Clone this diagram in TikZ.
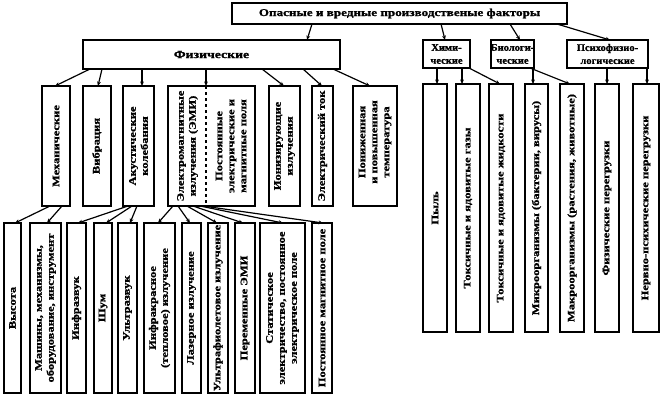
\documentclass[tikz,border=0pt]{standalone}
\usepackage{fontspec}
\newfontfamily\ffa{Liberation Serif Bold}[FakeStretch=1.25,FakeBold=1.2]
\newfontfamily\ffb{Liberation Serif Bold}[FakeStretch=1.05,FakeBold=1.2]
\usetikzlibrary{arrows.meta}
\newcommand\fnt{\ffa\fontsize{10}{12}\selectfont}
\newcommand\sfnt{\ffb\fontsize{10}{13}\selectfont}
\newcommand\mkbox[5]{%
  \pgfmathsetmacro\bxw{#4-#2}\pgfmathsetmacro\bxh{#5-#3}%
  \node[bx, minimum width=\bxw pt, minimum height=\bxh pt] (#1) at ({(#2+#4)/2},{(#3+#5)/2}) {};}
\begin{document}
\begin{tikzpicture}[x=1pt,y=-1pt,
  bx/.style={draw, line width=1.5pt, inner sep=0pt, outer sep=0pt},
  vt/.style={rotate=90, align=center, inner sep=0pt, font=\fnt},
  ht/.style={align=center, inner sep=0pt, font=\fnt},
  st/.style={align=center, inner sep=0pt, font=\sfnt},
  arr/.style={-{Stealth[length=4.5pt,width=3.8pt]}, line width=1.2pt}]
\useasboundingbox (0,0) rectangle (660,402);
% top levels
\mkbox{top}{232}{3}{567}{24}
\node[ht, font=\ffa\fontsize{10.5}{12}\selectfont] (topt) at (top) {Опасные и вредные производственые факторы};
\mkbox{fiz}{83}{40}{340}{69}
\node[ht, font=\ffa\fontsize{11}{12}\selectfont] (fizt) at (fiz) {Физические};
\mkbox{him}{423}{40}{470}{68}
\node[st] (himt) at (him) {Хими-\\ческие};
\mkbox{bio}{491}{40}{534}{68}
\node[st] (biot) at (bio) {Биологи-\\ческие};
\mkbox{psy}{567}{40}{648}{68}
\node[st] (psyt) at (psy) {Психофизио-\\логические};
% physical subgroups
\mkbox{mech}{42}{86}{70}{206}
\node[vt] (mecht) at (mech) {Механические};
\mkbox{vib}{83}{86}{111}{206}
\node[vt] (vibt) at (vib) {Вибрация};
\mkbox{akust}{123}{86}{154}{206}
\node[vt] (akustt) at (akust) {Акустические\\колебания};
\mkbox{emi}{168}{86}{255}{206}
\draw[dashed, line width=1.2pt] ([xshift=38pt]emi.north west) -- ([xshift=38pt]emi.south west);
\node[vt] (emit) at (187.5,146) {Электромагнитные\\излучения (ЭМИ)};
\node[vt] (emipt) at (231,146) {Постоянные\\электрические и\\магнитные поля};
\mkbox{ion}{269}{86}{300}{206}
\node[vt] (iont) at (ion) {Ионизирующие\\излучения};
\mkbox{tok}{312}{86}{333}{206}
\node[vt] (tokt) at (tok) {Электрический ток};
\mkbox{temp}{353}{86}{397}{206}
\node[vt] (tempt) at (375,142) {Пониженная\\и повышенная\\температура};
% level 3 left
\mkbox{vys}{4}{223}{21}{393}
\node[vt] (vyst) at (vys) {Высота};
\mkbox{mash}{30}{223}{61}{393}
\node[vt] (masht) at (mash) {Машины, механизмы,\\оборудование, инструмент};
\mkbox{infra}{67}{223}{86}{393}
\node[vt] (infrat) at (infra) {Инфразвук};
\mkbox{shum}{94}{223}{112}{393}
\node[vt] (shumt) at (shum) {Шум};
\mkbox{ultra}{118}{223}{137}{393}
\node[vt] (ultrat) at (ultra) {Ультразвук};
\mkbox{ik}{144}{223}{175}{393}
\node[vt] (ikt) at (ik) {Инфракрасное\\(тепловое) излучение};
\mkbox{laz}{182}{223}{201}{393}
\node[vt] (lazt) at (laz) {Лазерное излучение};
\mkbox{uf}{208}{223}{228}{393}
\node[vt] (uft) at (uf) {Ультрафиолетовое излучение};
\mkbox{perem}{235}{223}{255}{393}
\node[vt] (peremt) at (perem) {Переменные ЭМИ};
\mkbox{stat}{260}{223}{305}{393}
\node[vt] (statt) at (stat) {Статическое\\электричество, постоянное\\электрическое поле};
\mkbox{post}{312}{223}{332}{393}
\node[vt] (postt) at (post) {Постоянное магнитное поле};
% right groups
\mkbox{pyl}{423}{84}{447}{332}
\node[vt] (pylt) at (pyl) {Пыль};
\mkbox{gaz}{456}{84}{480}{332}
\node[vt] (gazt) at (gaz) {Токсичные и ядовитые газы};
\mkbox{zhid}{489}{84}{513}{332}
\node[vt] (zhidt) at (zhid) {Токсичные и ядовитые жидкости};
\mkbox{micro}{525}{84}{548}{332}
\node[vt] (microt) at (micro) {Микроорганизмы (бактерии, вирусы)};
\mkbox{macro}{560}{84}{584}{332}
\node[vt] (macrot) at (macro) {Макроорганизмы (растения, животные)};
\mkbox{fizper}{595}{84}{619}{332}
\node[vt] (fizpert) at (fizper) {Физические перегрузки};
\mkbox{nerv}{633}{84}{659}{332}
\node[vt] (nervt) at (nerv) {Нервно-психические перегрузки};
% arrows from top
\draw[arr] ([xshift=80pt]top.south west) -- ([xshift=224pt]fiz.north west);
\draw[arr] ([xshift=209pt]top.south west) -- ([xshift=22pt]him.north west);
\draw[arr] ([xshift=278pt]top.south west) -- ([xshift=29pt]bio.north west);
\draw[arr] ([xshift=325pt]top.south west) -- ([xshift=43pt]psy.north west);
% from fiz
\draw[arr] ([xshift=7pt]fiz.south west) -- ([xshift=13pt]mech.north west);
\draw[arr] ([xshift=19pt]fiz.south west) -- ([xshift=15pt]vib.north west);
\draw[arr] ([xshift=59pt]fiz.south west) -- ([xshift=19pt]akust.north west);
\draw[arr] ([xshift=123pt]fiz.south west) -- ([xshift=38pt]emi.north west);
\draw[arr] ([xshift=179pt]fiz.south west) -- ([xshift=15pt]ion.north west);
\draw[arr] ([xshift=220pt]fiz.south west) -- ([xshift=10pt]tok.north west);
\draw[arr] ([xshift=250pt]fiz.south west) -- ([xshift=17pt]temp.north west);
% chemical, bio, psycho
\draw[arr] ([xshift=14pt]him.south west) -- ([xshift=14pt]pyl.north west);
\draw[arr] ([xshift=39pt]him.south west) -- ([xshift=6pt]gaz.north west);
\draw[arr] ([xshift=46pt]him.south west) -- ([xshift=11pt]zhid.north west);
\draw[arr] ([xshift=42pt]bio.south west) -- ([xshift=8pt]micro.north west);
\draw[arr] ([xshift=39pt]bio.south west) -- ([xshift=10pt]macro.north west);
\draw[arr] ([xshift=40pt]psy.south west) -- ([xshift=12pt]fizper.north west);
\draw[arr] ([xshift=80pt]psy.south west) -- ([xshift=14pt]nerv.north west);
% level 2 -> 3
\draw[arr] ([xshift=8pt]mech.south west) -- ([xshift=11pt]vys.north west);
\draw[arr] ([xshift=20pt]mech.south west) -- ([xshift=17pt]mash.north west);
\draw[arr] ([xshift=5pt]akust.south west) -- ([xshift=11pt]infra.north west);
\draw[arr] ([xshift=9pt]akust.south west) -- ([xshift=12pt]shum.north west);
\draw[arr] ([xshift=14pt]akust.south west) -- ([xshift=12pt]ultra.north west);
\draw[arr] ([xshift=5pt]emi.south west) -- ([xshift=14pt]ik.north west);
\draw[arr] ([xshift=10pt]emi.south west) -- ([xshift=8pt]laz.north west);
\draw[arr] ([xshift=19pt]emi.south west) -- ([xshift=9pt]uf.north west);
\draw[arr] ([xshift=25pt]emi.south west) -- ([xshift=8pt]perem.north west);
\draw[arr] ([xshift=32pt]emi.south west) -- ([xshift=23pt]stat.north west);
\draw[arr] ([xshift=35pt]emi.south west) -- ([xshift=11pt]post.north west);
\end{tikzpicture}
\end{document}
